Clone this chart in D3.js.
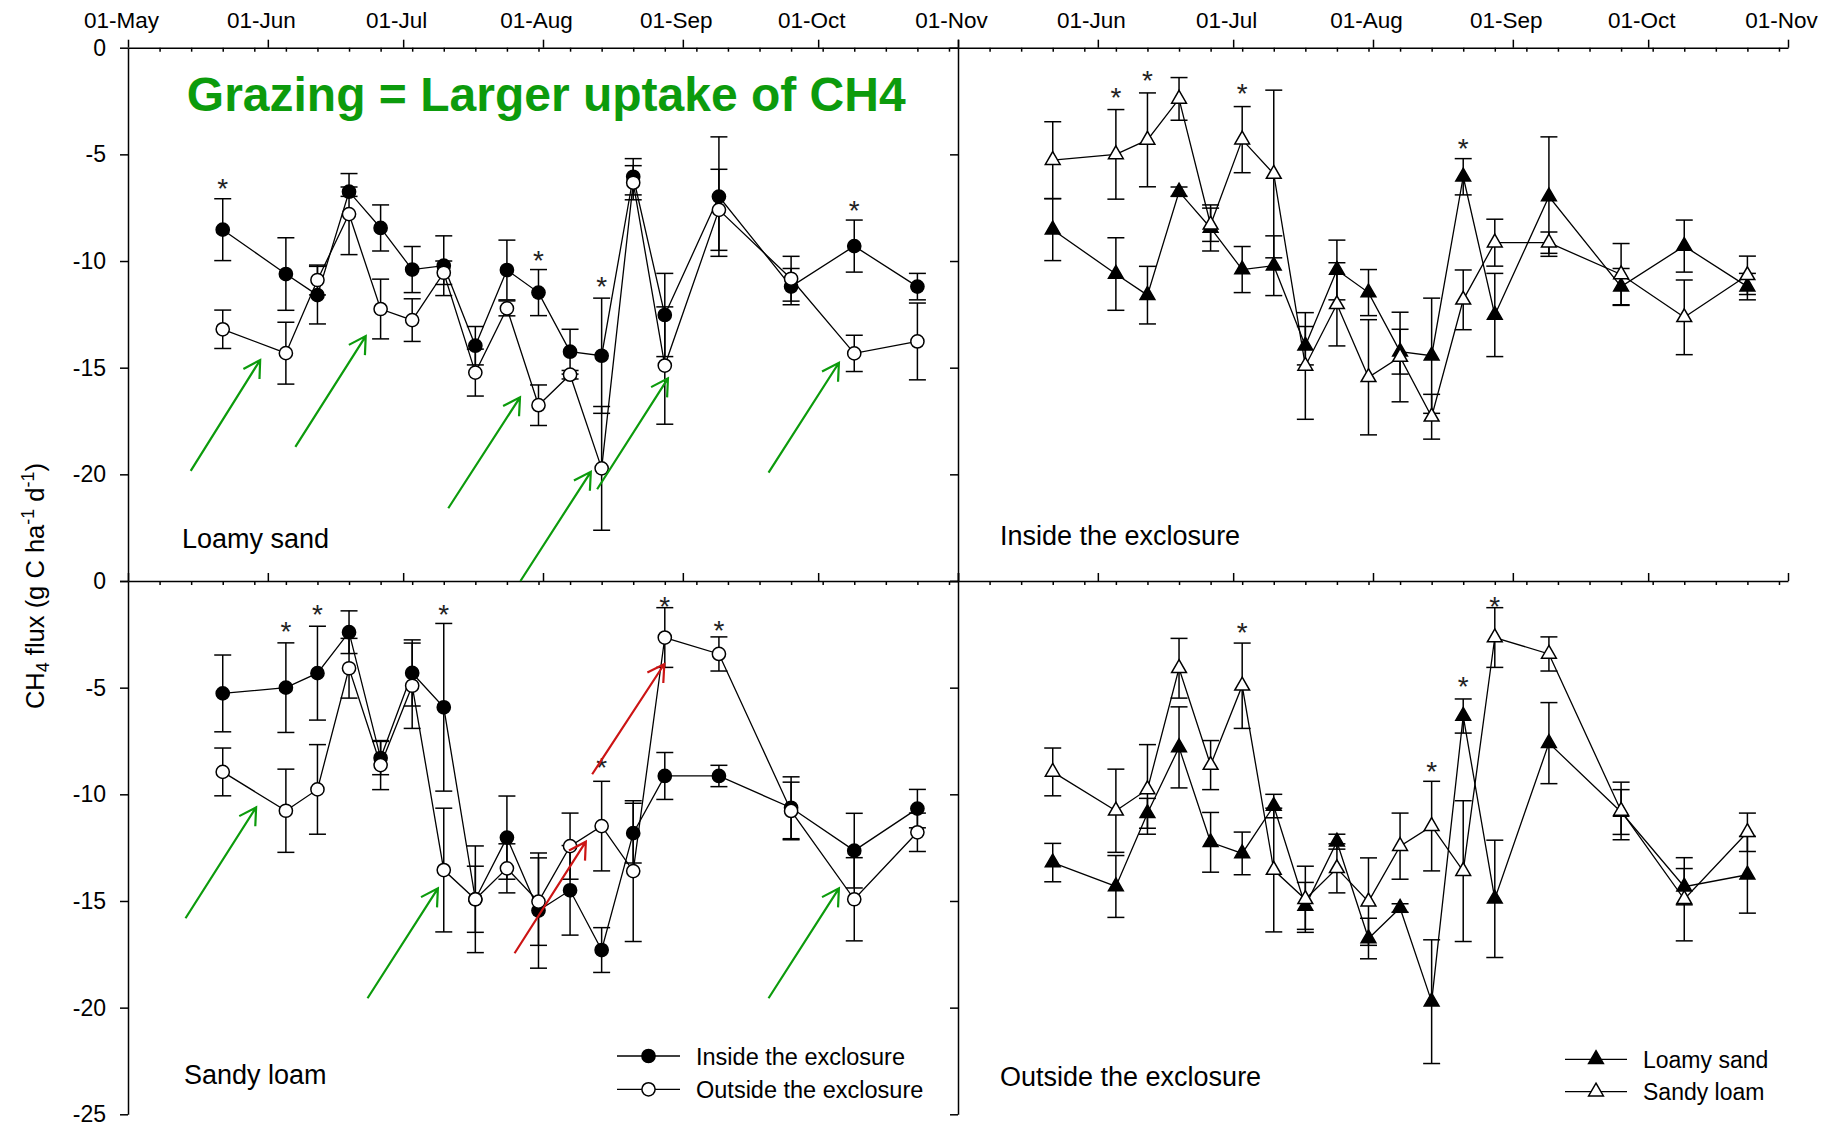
<!DOCTYPE html>
<html>
<head>
<meta charset="utf-8">
<script src="https://cdn.jsdelivr.net/npm/d3@7"></script>
<style>
  body { margin: 0; background: #fff; }
  svg { display: block; }
  text { font-family: "Liberation Sans", Arial, sans-serif; }
</style>
</head>
<body>
<svg id="chart" width="1847" height="1127"></svg>
<script>
// CH4 flux, 4 panels (soil x exclosure), weekly sampling 2011

// sampling dates
const dates = ["2011-05-22","2011-06-05","2011-06-12","2011-06-19","2011-06-26","2011-07-03",
  "2011-07-10","2011-07-17","2011-07-24","2011-07-31","2011-08-07","2011-08-14","2011-08-21",
  "2011-08-28","2011-09-09","2011-09-25","2011-10-09","2011-10-23"];

// loamy sand, inside / outside the exclosure (mean, error)
const lsIn     = [-8.53,-10.61,-11.6,-6.75,-8.45,-10.4,-10.22,-13.97,-10.42,-11.48,-14.25,-14.44,-6.05,-12.53,-6.98,-11.2,-9.3,-11.2];
const lsInErr  = [1.45,1.7,1.35,0.22,1.08,1.08,1.4,0.9,1.4,1.08,1.05,2.7,0.85,1.95,2.8,0.85,1.22,0.62];
const lsOut    = [-13.2,-14.32,-10.89,-7.8,-12.25,-12.77,-10.55,-15.23,-12.22,-16.76,-15.33,-19.72,-6.33,-14.9,-7.6,-10.83,-14.33,-13.77];
const lsOutErr = [0.9,1.45,0.7,1.9,1.4,1.0,0.55,1.1,0.35,0.95,0.2,2.9,0.8,2.75,1.9,1.05,0.85,1.8];

// sandy loam, inside / outside the exclosure
const slIn     = [-5.27,-5.0,-4.32,-2.4,-8.3,-4.31,-5.92,-14.92,-12.03,-15.45,-14.5,-17.3,-11.82,-9.14,-9.14,-10.63,-12.64,-10.67];
const slInErr  = [1.8,2.1,2.2,1.0,0.78,1.55,3.93,2.5,1.95,2.7,2.1,1.05,1.4,1.1,0.5,1.45,1.75,0.9];
const slOut    = [-8.95,-10.77,-9.77,-4.09,-8.63,-4.91,-13.55,-14.92,-13.47,-15.03,-12.43,-11.49,-13.6,-2.65,-3.42,-10.78,-14.92,-11.78];
const slOutErr = [1.12,1.95,2.1,1.4,1.15,2.0,2.9,1.55,1.15,2.05,1.55,2.1,3.3,1.4,0.8,1.35,1.95,0.9];

// significance marks: [date index, flux where the * sits]
const starsLoamy   = [[0,-6.4],[9,-9.77],[11,-11.02],[16,-7.45]];
const starsSandy   = [[1,-2.19],[2,-1.36],[6,-1.39],[11,-8.55],[13,-1.02],[14,-2.14]];
const starsInside  = [[1,-2.17],[2,-1.33],[5,-1.98],[12,-4.53]];
const starsOutside = [[5,-2.22],[11,-8.75],[12,-4.77],[13,-1.02]];

// annotation arrows: [day from 01-May, flux] -> [day, flux]
const greenArrowsLoamy = [[13.9,-19.84,29.3,-14.64],[37.1,-18.71,52.7,-13.52],[71.0,-21.59,86.9,-16.39],
  [87.0,-25.0,102.6,-19.88],[104.0,-20.7,119.7,-15.5],[142.0,-19.92,157.6,-14.77]];
const greenArrowsSandy = [[12.75,-15.81,28.4,-10.61],[53.1,-19.56,68.7,-14.41],[142.0,-19.56,157.6,-14.41]];
const redArrowsSandy   = [[85.7,-17.45,101.5,-12.22],[102.9,-9.06,118.9,-3.89]];

const yTicks = [0,-5,-10,-15,-20,-25];

const parse = d3.utcParse("%Y-%m-%d");
const t0 = parse("2011-05-01"), t1 = parse("2011-11-01");
const dayToDate = d => new Date(t0.getTime() + d * 864e5);
const pts = (v, e) => dates.map((d, i) => ({date: parse(d), v: v[i], e: e[i]}));

const svg = d3.select("#chart");
const GREEN = "#0c9b0c", RED = "#cc1414";

const colL = [128, 958], colR = [958, 1788];
const rowT = [581, 47.7], rowB = [1114.3, 581];

const circle = d3.symbol().type(d3.symbolCircle).size(Math.PI * 6.6 * 6.6)();
const tri = d3.symbol().type(d3.symbolTriangle).size(95)();

const panels = [
  {col: colL, row: rowT, label: "Loamy sand", lab: [54, 33.3], yLabels: [0,-5,-10,-15,-20], topLabels: true,
   series: [{d: pts(lsIn, lsInErr), sym: circle, fill: "#000"}, {d: pts(lsOut, lsOutErr), sym: circle, fill: "#fff"}],
   stars: starsLoamy},
  {col: colR, row: rowT, label: "Inside the exclosure", lab: [42, 36], yLabels: null, topLabels: true,
   series: [{d: pts(lsIn, lsInErr), sym: tri, fill: "#000"}, {d: pts(slIn, slInErr), sym: tri, fill: "#fff"}],
   stars: starsInside},
  {col: colL, row: rowB, label: "Sandy loam", lab: [56, 30.3], yLabels: yTicks, topLabels: false,
   series: [{d: pts(slIn, slInErr), sym: circle, fill: "#000"}, {d: pts(slOut, slOutErr), sym: circle, fill: "#fff"}],
   stars: starsSandy},
  {col: colR, row: rowB, label: "Outside the exclosure", lab: [42, 28.6], yLabels: null, topLabels: false,
   series: [{d: pts(lsOut, lsOutErr), sym: tri, fill: "#000"}, {d: pts(slOut, slOutErr), sym: tri, fill: "#fff"}],
   stars: starsOutside}
];

panels.forEach(p => {
  const x = d3.scaleUtc().domain([t0, t1]).range(p.col);
  const y = d3.scaleLinear().domain([-25, 0]).range(p.row);
  p.x = x; p.y = y;
  const g = svg.append("g");

  // y axis (left edge of panel)
  const ya = g.append("g").attr("transform", `translate(${p.col[0]},0)`)
    .call(d3.axisLeft(y).tickValues(yTicks).tickSize(8).tickSizeOuter(0).tickPadding(14)
      .tickFormat(v => p.yLabels && p.yLabels.includes(v) ? String(v) : ""));
  ya.selectAll("text").attr("font-size", 23).attr("font-family", "Liberation Sans, Arial").attr("fill", "#000");

  // x axis along the top of the panel: monthly major ticks out, weekly minor ticks in
  const xa = g.append("g").attr("transform", `translate(0,${p.row[1]})`)
    .call(d3.axisTop(x).ticks(d3.utcMonth.every(1)).tickSize(8).tickSizeOuter(0).tickPadding(12)
      .tickFormat(d => {
        if (!p.topLabels) return "";
        if (p.col === colR && +d === +t0) return "";
        return d3.utcFormat("%d-%b")(d);
      }));
  xa.selectAll("text").attr("x", -7).attr("font-size", 22.5).attr("font-family", "Liberation Sans, Arial").attr("fill", "#000");
  g.append("g").attr("transform", `translate(0,${p.row[1]})`)
    .call(d3.axisTop(x).tickValues(d3.range(7, 184, 7).map(dayToDate)).tickSize(-4).tickFormat(""))
    .call(s => s.select(".domain").remove());

  g.selectAll(".domain, .tick line").attr("stroke", "#000").attr("stroke-width", 1.5);

  // series: line, error bars, symbols
  p.series.forEach(s => {
    const sg = g.append("g");
    sg.append("path").datum(s.d)
      .attr("fill", "none").attr("stroke", "#000").attr("stroke-width", 1.3)
      .attr("d", d3.line().x(d => x(d.date)).y(d => y(d.v)));
    const eb = sg.selectAll(".eb").data(s.d).join("g").attr("class", "eb")
      .attr("stroke", "#000").attr("stroke-width", 1.5);
    eb.append("line").attr("x1", d => x(d.date)).attr("x2", d => x(d.date))
      .attr("y1", d => y(d.v + d.e)).attr("y2", d => y(d.v - d.e));
    [1, -1].forEach(k => eb.append("line")
      .attr("x1", d => x(d.date) - 8.5).attr("x2", d => x(d.date) + 8.5)
      .attr("y1", d => y(d.v + k * d.e)).attr("y2", d => y(d.v + k * d.e)));
    sg.selectAll(".sym").data(s.d).join("path").attr("class", "sym")
      .attr("d", s.sym).attr("transform", d => `translate(${x(d.date)},${y(d.v)})`)
      .attr("fill", s.fill).attr("stroke", "#000").attr("stroke-width", 1.5);
  });

  // significance stars
  g.selectAll(".star").data(p.stars).join("text").attr("class", "star")
    .attr("x", d => x(parse(dates[d[0]])))
    .attr("y", d => y(d[1]) + 13.5)
    .attr("text-anchor", "middle")
    .attr("font-family", "Liberation Serif, Times New Roman, serif")
    .attr("font-size", 28).attr("fill", "#222")
    .text("*");

  // panel label
  g.append("text").attr("x", p.col[0] + p.lab[0]).attr("y", p.row[0] - p.lab[1])
    .attr("font-size", 27).attr("fill", "#000").text(p.label);
});

// annotation arrows
function drawArrows(p, list, color) {
  const L = 19, a = Math.PI / 6;
  list.forEach(r => {
    const x0 = p.x(dayToDate(r[0])), y0 = p.y(r[1]), x1 = p.x(dayToDate(r[2])), y1 = p.y(r[3]);
    const ang = Math.atan2(y1 - y0, x1 - x0);
    const path = d3.path();
    path.moveTo(x0, y0); path.lineTo(x1, y1);
    path.moveTo(x1 - L * Math.cos(ang - a), y1 - L * Math.sin(ang - a));
    path.lineTo(x1, y1);
    path.lineTo(x1 - L * Math.cos(ang + a), y1 - L * Math.sin(ang + a));
    svg.append("path").attr("d", path.toString()).attr("fill", "none")
      .attr("stroke", color).attr("stroke-width", 2.2);
  });
}
drawArrows(panels[0], greenArrowsLoamy, GREEN);
drawArrows(panels[2], greenArrowsSandy, GREEN);
drawArrows(panels[2], redArrowsSandy, RED);

// headline
svg.append("text").attr("x", 186.8).attr("y", 111)
  .attr("font-size", 48).attr("font-weight", "bold").attr("fill", GREEN)
  .text("Grazing = Larger uptake of CH4");

// y axis title
const yt = svg.append("text").attr("transform", "translate(44,586) rotate(-90)")
  .attr("text-anchor", "middle").attr("font-size", 25.5).attr("fill", "#000");
yt.append("tspan").text("CH");
yt.append("tspan").attr("font-size", 18).attr("dy", 5).text("4");
yt.append("tspan").attr("dy", -5).text(" flux (g C ha");
yt.append("tspan").attr("font-size", 18).attr("dy", -10).text("-1");
yt.append("tspan").attr("dy", 10).text(" d");
yt.append("tspan").attr("font-size", 18).attr("dy", -10).text("-1");
yt.append("tspan").attr("dy", 10).text(")");

// legends
function legend(x0, x1, ys, items, fs) {
  items.forEach((it, i) => {
    const g = svg.append("g");
    g.append("line").attr("x1", x0).attr("x2", x1).attr("y1", ys[i]).attr("y2", ys[i])
      .attr("stroke", "#000").attr("stroke-width", 1.3);
    g.append("path").attr("d", it.sym).attr("transform", `translate(${(x0 + x1) / 2},${ys[i]})`)
      .attr("fill", it.fill).attr("stroke", "#000").attr("stroke-width", 1.5);
    g.append("text").attr("x", x1 + 16).attr("y", ys[i] + 8.5).attr("font-size", fs).attr("fill", "#000").text(it.label);
  });
}
legend(617, 680, [1056, 1089.3], [
  {sym: circle, fill: "#000", label: "Inside the exclosure"},
  {sym: circle, fill: "#fff", label: "Outside the exclosure"}], 23.5);
legend(1565, 1627, [1059.3, 1091.7], [
  {sym: tri, fill: "#000", label: "Loamy sand"},
  {sym: tri, fill: "#fff", label: "Sandy loam"}], 23);
</script>
</body>
</html>
